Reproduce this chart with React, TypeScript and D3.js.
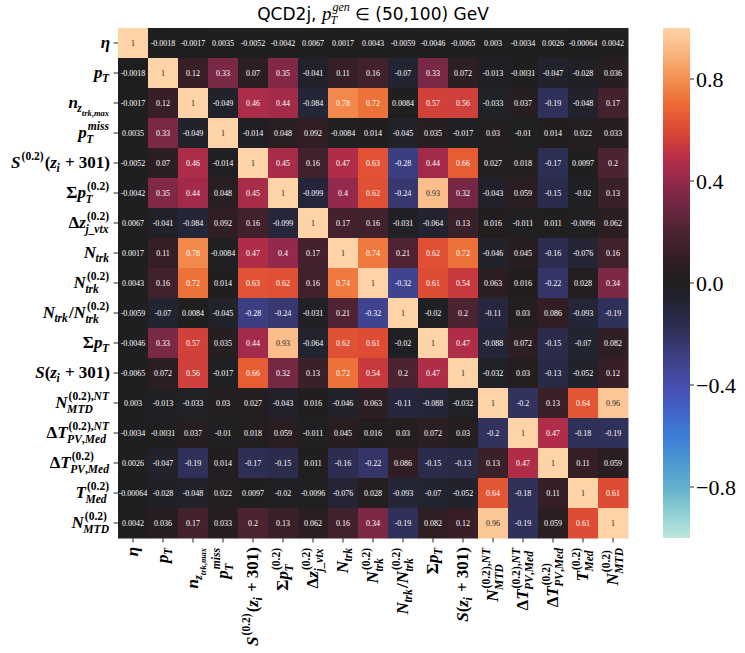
import * as d3 from 'd3';

type Atom = { b: string; sup?: string; sub?: string; subsub?: string };

// variable labels (LaTeX-ish pieces)
const variables: Atom[][] = [
  [{ b: 'η' }],
  [{ b: 'p', sub: 'T' }],
  [{ b: 'n', sub: 'z', subsub: 'trk,max' }],
  [{ b: 'p', sub: 'T', sup: 'miss' }],
  [{ b: 'S', sup: '(0.2)' }, { b: '(' }, { b: 'z', sub: 'i' }, { b: ' + 301)' }],
  [{ b: 'Σ' }, { b: 'p', sub: 'T', sup: '(0.2)' }],
  [{ b: 'Δ' }, { b: 'z', sub: 'j_vtx', sup: '(0.2)' }],
  [{ b: 'N', sub: 'trk' }],
  [{ b: 'N', sub: 'trk', sup: '(0.2)' }],
  [{ b: 'N', sub: 'trk' }, { b: '/' }, { b: 'N', sub: 'trk', sup: '(0.2)' }],
  [{ b: 'Σ' }, { b: 'p', sub: 'T' }],
  [{ b: 'S' }, { b: '(' }, { b: 'z', sub: 'i' }, { b: ' + 301)' }],
  [{ b: 'N', sub: 'MTD', sup: '(0.2),NT' }],
  [{ b: 'Δ' }, { b: 'T', sub: 'PV,Med', sup: '(0.2),NT' }],
  [{ b: 'Δ' }, { b: 'T', sub: 'PV,Med', sup: '(0.2)' }],
  [{ b: 'T', sub: 'Med', sup: '(0.2)' }],
  [{ b: 'N', sub: 'MTD', sup: '(0.2)' }],
];

const corrRows: number[][] = [
  [1, -0.0018, -0.0017, 0.0035, -0.0052, -0.0042, 0.0067, 0.0017, 0.0043, -0.0059, -0.0046, -0.0065, 0.003, -0.0034, 0.0026, -0.00064, 0.0042],
  [-0.0018, 1, 0.12, 0.33, 0.07, 0.35, -0.041, 0.11, 0.16, -0.07, 0.33, 0.072, -0.013, -0.0031, -0.047, -0.028, 0.036],
  [-0.0017, 0.12, 1, -0.049, 0.46, 0.44, -0.084, 0.78, 0.72, 0.0084, 0.57, 0.56, -0.033, 0.037, -0.19, -0.048, 0.17],
  [0.0035, 0.33, -0.049, 1, -0.014, 0.048, 0.092, -0.0084, 0.014, -0.045, 0.035, -0.017, 0.03, -0.01, 0.014, 0.022, 0.033],
  [-0.0052, 0.07, 0.46, -0.014, 1, 0.45, 0.16, 0.47, 0.63, -0.28, 0.44, 0.66, 0.027, 0.018, -0.17, 0.0097, 0.2],
  [-0.0042, 0.35, 0.44, 0.048, 0.45, 1, -0.099, 0.4, 0.62, -0.24, 0.93, 0.32, -0.043, 0.059, -0.15, -0.02, 0.13],
  [0.0067, -0.041, -0.084, 0.092, 0.16, -0.099, 1, 0.17, 0.16, -0.031, -0.064, 0.13, 0.016, -0.011, 0.011, -0.0096, 0.062],
  [0.0017, 0.11, 0.78, -0.0084, 0.47, 0.4, 0.17, 1, 0.74, 0.21, 0.62, 0.72, -0.046, 0.045, -0.16, -0.076, 0.16],
  [0.0043, 0.16, 0.72, 0.014, 0.63, 0.62, 0.16, 0.74, 1, -0.32, 0.61, 0.54, 0.063, 0.016, -0.22, 0.028, 0.34],
  [-0.0059, -0.07, 0.0084, -0.045, -0.28, -0.24, -0.031, 0.21, -0.32, 1, -0.02, 0.2, -0.11, 0.03, 0.086, -0.093, -0.19],
  [-0.0046, 0.33, 0.57, 0.035, 0.44, 0.93, -0.064, 0.62, 0.61, -0.02, 1, 0.47, -0.088, 0.072, -0.15, -0.07, 0.082],
  [-0.0065, 0.072, 0.56, -0.017, 0.66, 0.32, 0.13, 0.72, 0.54, 0.2, 0.47, 1, -0.032, 0.03, -0.13, -0.052, 0.12],
  [0.003, -0.013, -0.033, 0.03, 0.027, -0.043, 0.016, -0.046, 0.063, -0.11, -0.088, -0.032, 1, -0.2, 0.13, 0.64, 0.96],
  [-0.0034, -0.0031, 0.037, -0.01, 0.018, 0.059, -0.011, 0.045, 0.016, 0.03, 0.072, 0.03, -0.2, 1, 0.47, -0.18, -0.19],
  [0.0026, -0.047, -0.19, 0.014, -0.17, -0.15, 0.011, -0.16, -0.22, 0.086, -0.15, -0.13, 0.13, 0.47, 1, 0.11, 0.059],
  [-0.00064, -0.028, -0.048, 0.022, 0.0097, -0.02, -0.0096, -0.076, 0.028, -0.093, -0.07, -0.052, 0.64, -0.18, 0.11, 1, 0.61],
  [0.0042, 0.036, 0.17, 0.033, 0.2, 0.13, 0.062, 0.16, 0.34, -0.19, 0.082, 0.12, 0.96, -0.19, 0.059, 0.61, 1],
];

const cbarTicks = [0.8, 0.4, 0, -0.4, -0.8];
const cbarTickLabels = ['0.8', '0.4', '0.0', '\u22120.4', '\u22120.8'];

// icefire-like colormap
const cmapStops = [-1, -0.9, -0.8, -0.7, -0.6, -0.5, -0.4, -0.3, -0.2, -0.1, 0, 0.1, 0.2, 0.3, 0.4, 0.5, 0.6, 0.7, 0.8, 0.9, 1];
const cmapColors = ['#bde7db', '#8ecfd4', '#62b0cc', '#4997d2', '#3c7dd6', '#4262c9', '#474fae', '#3e4188', '#31325e', '#25263a', '#1f1e1f',
  '#331e24', '#4b2331', '#6e2742', '#93294b', '#bb2f45', '#dc4934', '#ec6a33', '#f39052', '#f9b47c', '#fed3a8'];

const SERIF = '"Liberation Serif", "DejaVu Serif", serif';
const SANS = '"DejaVu Sans", sans-serif';
const W = 745, H = 653;
const left = 118, top = 28, cell = 30;
const n = variables.length;

let ctx: CanvasRenderingContext2D | null = null;
function measure(s: string, font: string) {
  if (!ctx) ctx = document.createElement('canvas').getContext('2d');
  ctx!.font = font;
  return ctx!.measureText(s).width;
}
function tw(s: string, size: number, italic: boolean) {
  return measure(s, `${italic ? 'italic ' : ''}bold ${size}px ${SERIF}`);
}

function splitRuns(s: string) {
  return (s.match(/[A-Za-zη]+|[^A-Za-zη]+/g) || []).map(t => ({ t, it: /[A-Za-zη]/.test(t) }));
}

type Run = { x: number; y: number; t: string; it: boolean; size: number };

function layout(atoms: Atom[], size = 17) {
  const runs: Run[] = [];
  let x = 0;
  const small = size * 0.68;
  const tiny = size * 0.5;
  const put = (s: string, y: number, sz: number) => {
    for (const r of splitRuns(s)) {
      runs.push({ x, y, t: r.t, it: r.it, size: sz });
      x += tw(r.t, sz, r.it);
    }
  };
  for (const a of atoms) {
    put(a.b, 0, size);
    if (a.sup || a.sub) {
      const x0 = x;
      let supEnd = x0, subEnd = x0;
      if (a.sup) {
        x = x0 + 1;
        put(a.sup, -size * 0.45, small);
        supEnd = x;
      }
      if (a.sub) {
        x = x0 - 0.5;
        const sy = a.sup ? size * 0.32 : size * 0.24;
        put(a.sub, sy, small);
        if (a.subsub) put(a.subsub, sy + size * 0.22, tiny);
        subEnd = x;
      }
      x = Math.max(supEnd, subEnd) + 1;
    }
  }
  return { runs, width: x };
}

function Label({ atoms, transform }: { atoms: Atom[]; transform: string }) {
  const { runs, width } = layout(atoms);
  return (
    <g transform={transform}>
      {runs.map((r, i) => (
        <text key={i} x={r.x - width} y={r.y} fontFamily={SERIF} fontWeight="bold"
          fontStyle={r.it ? 'italic' : 'normal'} fontSize={r.size} fill="#000" style={{ whiteSpace: 'pre' }}>
          {r.t}
        </text>
      ))}
    </g>
  );
}

function Title({ cx, y }: { cx: number; y: number }) {
  const a = 'QCD2j, ';
  const c = ' \u2208 (50,100) GeV';
  const wa = measure(a, `17px ${SANS}`);
  const wp = measure('p', `italic 19px ${SERIF}`);
  const wT = measure('T', `italic 12px ${SERIF}`);
  const wg = measure('gen', `italic 12px ${SERIF}`);
  const wc = measure(c, `17px ${SANS}`);
  const total = wa + wp + 1 + Math.max(wT, wg) + wc;
  const x0 = cx - total / 2;
  const xs = x0 + wa + wp;
  return (
    <g fill="#000">
      <text x={x0} y={y} fontFamily={SANS} fontSize={17} style={{ whiteSpace: 'pre' }}>{a}</text>
      <text x={x0 + wa} y={y} fontFamily={SERIF} fontStyle="italic" fontSize={19}>p</text>
      <text x={xs - 1} y={y + 4} fontFamily={SERIF} fontStyle="italic" fontSize={12}>T</text>
      <text x={xs + 1} y={y - 9} fontFamily={SERIF} fontStyle="italic" fontSize={12}>gen</text>
      <text x={xs + 1 + Math.max(wT, wg)} y={y} fontFamily={SANS} fontSize={17} style={{ whiteSpace: 'pre' }}>{c}</text>
    </g>
  );
}

export default function App() {
  const idx = d3.range(n);
  const x = d3.scaleBand<number>().domain(idx).range([left, left + n * cell]);
  const y = d3.scaleBand<number>().domain(idx).range([top, top + n * cell]);
  const color = d3.scaleLinear<string>().domain(cmapStops).range(cmapColors).interpolate(d3.interpolateRgb).clamp(true);
  const cbY = d3.scaleLinear().domain([-1, 1]).range([top + n * cell, top]);
  const cbX = 663, cbW = 27;
  const gradStops = d3.range(0, 1.0001, 0.025);

  const textColor = (v: number) => {
    const c = d3.rgb(color(v));
    const lin = (u: number) => { u /= 255; return u <= 0.03928 ? u / 12.92 : Math.pow((u + 0.055) / 1.055, 2.4); };
    const lum = 0.2126 * lin(c.r) + 0.7152 * lin(c.g) + 0.0722 * lin(c.b);
    return lum > 0.408 ? '#262626' : '#ffffff';
  };

  return (
    <svg width={W} height={H} style={{ position: 'absolute', left: 0, top: 0, background: '#fff' }}>
      <defs>
        <linearGradient id="cbar" x1="0" y1="1" x2="0" y2="0">
          {gradStops.map(t => (
            <stop key={t} offset={t} stopColor={color(-1 + 2 * t)} />
          ))}
        </linearGradient>
      </defs>

      <Title cx={left + (n * cell) / 2} y={20} />

      {corrRows.map((row, i) =>
        row.map((v, j) => (
          <rect key={`c${i}-${j}`} x={x(j)} y={y(i)} width={x.bandwidth() + 0.5} height={y.bandwidth() + 0.5} fill={color(v)} />
        ))
      )}
      {corrRows.map((row, i) =>
        row.map((v, j) => (
          <text key={`t${i}-${j}`} x={x(j)! + cell / 2} y={y(i)! + cell / 2} dy="0.35em" textAnchor="middle"
            fontFamily={SERIF} fontSize={8} fill={textColor(v)}>
            {String(v)}
          </text>
        ))
      )}

      {idx.map(i => (
        <g key={`yt${i}`}>
          <line x1={left - 4.5} x2={left} y1={y(i)! + cell / 2} y2={y(i)! + cell / 2} stroke="#262626" strokeWidth={1} />
          <Label atoms={variables[i]} transform={`translate(${left - 8},${y(i)! + cell / 2 + 5})`} />
        </g>
      ))}
      {idx.map(j => (
        <g key={`xt${j}`}>
          <line x1={x(j)! + cell / 2} x2={x(j)! + cell / 2} y1={top + n * cell} y2={top + n * cell + 4.5} stroke="#262626" strokeWidth={1} />
          <Label atoms={variables[j]} transform={`translate(${x(j)! + cell / 2 + 5},${top + n * cell + 9}) rotate(-90)`} />
        </g>
      ))}

      <rect x={cbX} y={top} width={cbW} height={n * cell} fill="url(#cbar)" />
      {cbarTicks.map((t, i) => (
        <g key={`cb${i}`}>
          <line x1={cbX + cbW} x2={cbX + cbW + 4} y1={cbY(t)} y2={cbY(t)} stroke="#262626" strokeWidth={1} />
          <text x={cbX + cbW + 6} y={cbY(t)} dy="0.35em" fontFamily={SERIF} fontSize={22} fill="#000">
            {cbarTickLabels[i]}
          </text>
        </g>
      ))}
    </svg>
  );
}
